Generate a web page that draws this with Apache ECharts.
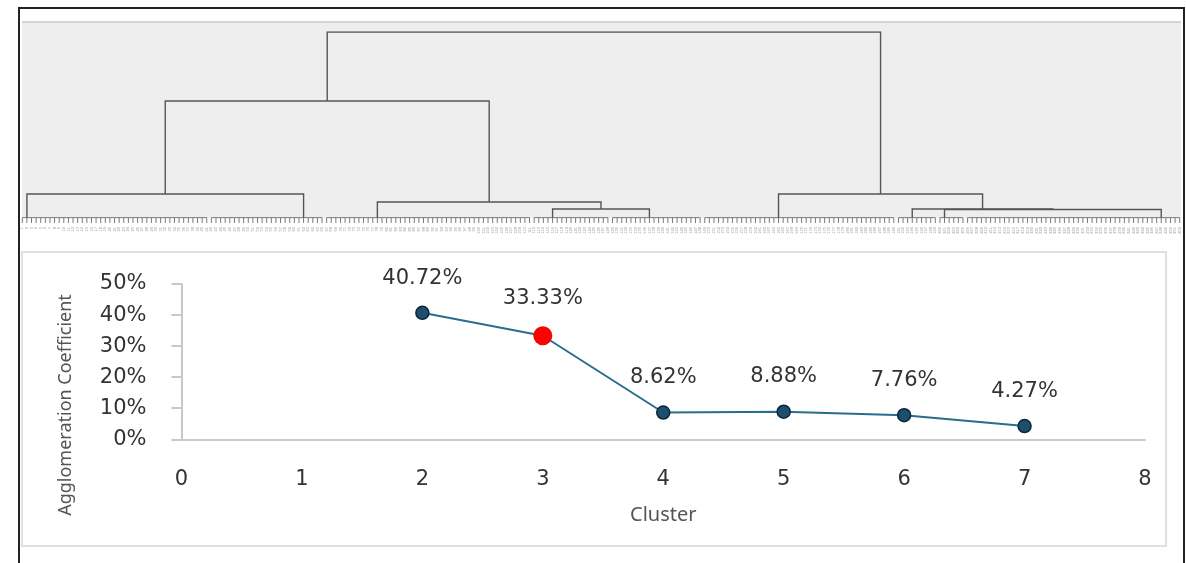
<!DOCTYPE html>
<html>
<head>
<meta charset="utf-8">
<script src="https://cdn.jsdelivr.net/npm/echarts@6/dist/echarts.min.js"></script>
<style>
html,body{margin:0;padding:0;background:#fff;}
#c{width:1186px;height:563px;}
</style>
</head>
<body>
<div id="c"></div>
<script>
// ---------- Dendrogram data ----------
const groupNames   = ['A','B','C','D','E','F','G','H','I'];
const groupSizes   = [41, 25, 45, 17, 20, 42, 9, 6, 47];   // leaves per low-level cluster
const groupAnchors = [1, 20, 11, 4, 8, 16, 3, 1, 42];      // leaf (within cluster) where the upper link attaches
const groupHeight  = 2.8;                                   // merge height of low-level clusters
// merges: [left, right, height]  (ids m0, m1, ... in order)
const mergeLeft   = ['D','C','A','m2','H','G','F','m3'];
const mergeRight  = ['E','m0','B','m1','I','m4','m5','m6'];
const mergeHeight = [7.3, 11.0, 15.2, 63.9, 7.1, 7.3, 15.2, 100];

// ---------- Agglomeration data ----------
const clusters = [2, 3, 4, 5, 6, 7];
const coeffs   = [0.4072, 0.3333, 0.0862, 0.0888, 0.0776, 0.0427];
const highlightCluster = 3;
const xTicks = [0,1,2,3,4,5,6,7,8];
const yTicks = ['0%','10%','20%','30%','40%','50%'];

// ---------- build dendrogram geometry ----------
const leafCount = groupSizes.reduce((a,b)=>a+b,0);
const nodes = {};
const combLines = [];
let start = 0;
groupNames.forEach((g,i)=>{
  const s = start, e = start + groupSizes[i] - 1;
  nodes[g] = {x: s + groupAnchors[i], h: groupHeight};
  combLines.push({coords: [[s, groupHeight],[e, groupHeight]]});
  for (let k = s; k <= e; k++) combLines.push({coords: [[k, 0],[k, groupHeight]]});
  start += groupSizes[i];
});
const treeLines = [];
mergeLeft.forEach((l,i)=>{
  const L = nodes[l], R = nodes[mergeRight[i]], h = mergeHeight[i];
  treeLines.push({coords: [[L.x, L.h],[L.x, h],[R.x, h],[R.x, R.h]]});
  nodes['m'+i] = {x: (L.x + R.x)/2, h: h};
});
const leafLabels = [];
for (let k = 0; k < leafCount; k++) leafLabels.push(String(k+1));

const lineData = clusters.map((c,i)=>{
  const d = {value:[c, coeffs[i]]};
  if (c === highlightCluster) {
    d.symbolSize = 19;
    d.itemStyle = {color:'#ff0000', borderColor:'#ff0000', borderWidth:0};
  }
  return d;
});

const chart = echarts.init(document.getElementById('c'), null, {renderer:'canvas'});
const font = 'DejaVu Sans';
chart.setOption({
  animation:false,
  backgroundColor:'#ffffff',
  graphic:[
    {type:'rect', z:-100, shape:{x:22,y:22,width:1159,height:196}, style:{fill:'#eeeeee'}},
    {type:'line', z:-99, shape:{x1:22,y1:22,x2:1181,y2:22}, style:{stroke:'#c8c8c8',lineWidth:1.5}},
    {type:'rect', z:-100, shape:{x:22,y:252,width:1144,height:294}, style:{fill:'none',stroke:'#d6d6d6',lineWidth:1.5}},
    {type:'rect', z:-100, shape:{x:19,y:8,width:1165,height:570}, style:{fill:'none',stroke:'#222',lineWidth:2}},
    {type:'text', z:10, x:66, y:405, rotation:Math.PI/2,
      style:{text:'Agglomeration Coefficient', font:'18px "Noto Sans"', fill:'#555', textAlign:'center', textVerticalAlign:'middle'}}
  ],
  grid:[
    {left:20, width:1162, top:32, height:191},
    {left:181.5, right:41, top:284, bottom:123.7}
  ],
  xAxis:[
    {gridIndex:0, type:'value', min:-0.5, max:leafCount-0.5, show:false},
    {gridIndex:1, type:'value', min:0, max:8, interval:1,
      axisLine:{lineStyle:{color:'#c8c8c8', width:2}},
      axisTick:{show:false}, splitLine:{show:false},
      axisLabel:{fontFamily:font, fontSize:21, color:'#333', margin:30},
      name:'Cluster', nameLocation:'middle', nameGap:66,
      nameTextStyle:{fontFamily:'Noto Sans', fontSize:20, color:'#555'}},
    {gridIndex:0, type:'category', data:leafLabels, boundaryGap:true, position:'bottom',
      axisLine:{show:false}, axisTick:{show:false},
      axisLabel:{interval:0, rotate:90, fontSize:4, color:'#999', margin:4}}
  ],
  yAxis:[
    {gridIndex:0, type:'value', min:0, max:100, show:false},
    {gridIndex:1, type:'value', min:0, max:0.5, interval:0.1,
      axisLine:{show:true, lineStyle:{color:'#c8c8c8', width:2}},
      axisTick:{show:true, length:10, lineStyle:{color:'#c8c8c8', width:2}},
      splitLine:{show:false},
      axisLabel:{fontFamily:font, fontSize:21, color:'#333', margin:35,
        formatter:(v)=>yTicks[Math.round(v*10)]}}
  ],
  series:[
    {type:'lines', coordinateSystem:'cartesian2d', xAxisIndex:0, yAxisIndex:0, polyline:true, silent:true,
      lineStyle:{color:'#7a7a7a', width:1, opacity:1}, data:combLines},
    {type:'lines', coordinateSystem:'cartesian2d', xAxisIndex:0, yAxisIndex:0, polyline:true, silent:true,
      lineStyle:{color:'#555555', width:1.4, opacity:1}, data:treeLines},
    {type:'line', xAxisIndex:1, yAxisIndex:1, data:lineData, symbol:'circle', symbolSize:13,
      lineStyle:{color:'#2b6c8f', width:2},
      itemStyle:{color:'#1c4f6e', borderColor:'#0b2638', borderWidth:1.5},
      label:{show:true, position:'top', distance:17, fontFamily:font, fontSize:21, color:'#333',
        formatter:(p)=>(p.value[1]*100).toFixed(2)+'%'},
      z:5}
  ]
});
</script>
</body>
</html>
